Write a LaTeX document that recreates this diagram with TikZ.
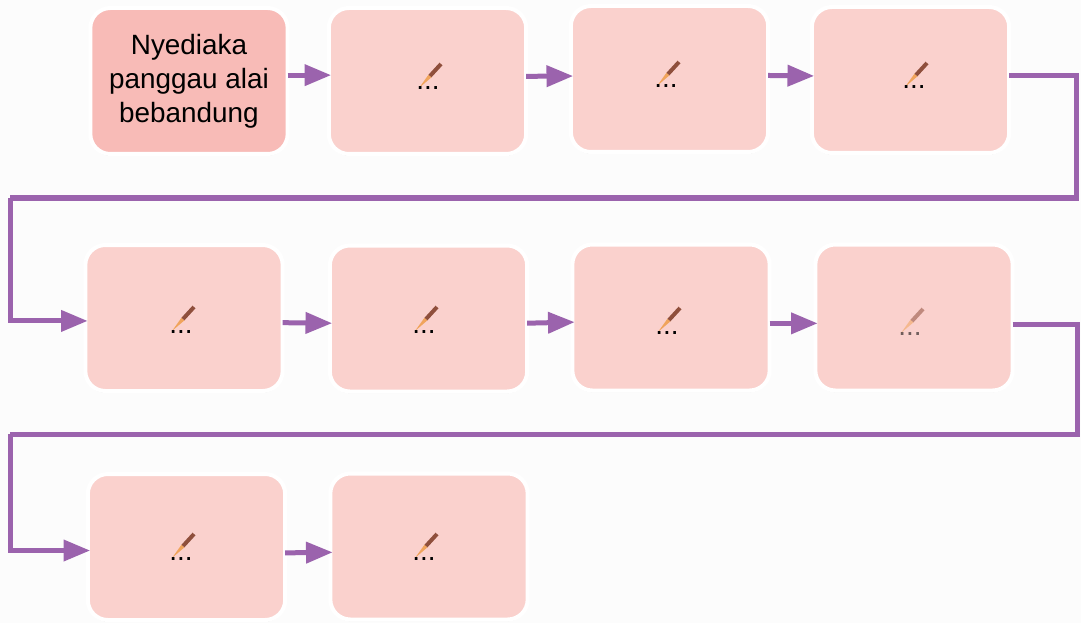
\documentclass[tikz,border=0pt]{standalone}
\usepackage{xcolor}
\usepackage{fontspec}
\usepackage{tikz}
\usetikzlibrary{arrows.meta,shadows}
\setmainfont{Liberation Sans}

\definecolor{startpink}{HTML}{F8BBB7}
\definecolor{steppink}{HTML}{FAD1CD}
\definecolor{linkpurple}{HTML}{9B63AD}
\definecolor{penbrown}{HTML}{8F4F3C}
\definecolor{penorange}{HTML}{F0A45C}

\tikzset{
	penmark/.pic={
		\fill[penorange] (-9,-2) -- (0.5,-15.3) -- (3.5,-12.7) -- cycle;
		\fill[penbrown] (0.5,-15.3) -- (11.5,-27.3) -- (14.5,-24.7) -- (3.5,-12.7) -- cycle;
		\node[dots] (-dots) at (0,0) {...};
	}
}

\begin{document}
\begin{tikzpicture}[
		x=0.3mm, y=-0.3mm,
		font=\fontsize{23.8}{29}\selectfont,
		stepbox/.style={rectangle, draw=white, line width=1.2mm, rounded corners=6mm, outer sep=0pt, minimum width=59.2mm, minimum height=43.8mm, align=center, fill=steppink, drop shadow={shadow xshift=0pt, shadow yshift=-0.5mm, opacity=0.18, fill=black}},
		dots/.style={inner sep=0pt, anchor=base},
		arrow/.style={-{Triangle[length=8mm, width=6.2mm]}, line width=1.5mm, draw=linkpurple, shorten >=-2pt},
		link/.style={line width=1.5mm, draw=linkpurple, line join=miter}
	]
		\useasboundingbox[fill=white!99!black] (0,0) rectangle (1081,623);

		% First row
		\node[stepbox, fill=startpink] (start) at (189,81) {Nyediaka\\panggau alai\\bebandung};
		\node[stepbox] (box2) at (427.5,81) {};
		\node[stepbox] (box3) at (669.5,79) {};
		\node[stepbox] (box4) at (910.5,80) {};

		% Second row
		\node[stepbox] (box5) at (184,318) {};
		\node[stepbox] (box6) at (428.5,318.5) {};
		\node[stepbox] (box7) at (671,317.5) {};
		\node[stepbox] (box8) at (914,317.5) {};

		% Third row
		\node[stepbox] (box9) at (186.5,547) {};
		\node[stepbox] (box10) at (429,546.5) {};

		% Pens
		\pic (pen2) at (428,90) {penmark};
		\pic (pen3) at (666,88) {penmark};
		\pic (pen4) at (914,89) {penmark};
		\pic (pen5) at (181,333) {penmark};
		\pic (pen6) at (424,333) {penmark};
		\pic (pen7) at (667,334) {penmark};
		\pic[opacity=0.55] (pen8) at (910,335) {penmark};
		\pic (pen9) at (181,560) {penmark};
		\pic (pen10) at (424,560) {penmark};

		% Turning points
		\coordinate (turn1) at (1076,198);
		\coordinate (turn2) at (10,198);
		\coordinate (turn3) at (1077,434);
		\coordinate (turn4) at (10,434);

		% Arrows
		\draw[arrow] ([yshift=5pt]start.east) -- ([yshift=5pt]box2.west);
		\draw[arrow] ([yshift=4pt]box2.east) -- ([yshift=2.5pt]box3.west);
		\draw[arrow] ([yshift=3pt]box3.east) -- ([yshift=3.5pt]box4.west);
		\draw[link] ([yshift=4pt]box4.east) -| (turn1) -- (turn2);
		\draw[arrow] (turn2) |- ([yshift=-2.5pt]box5.west);
		\draw[arrow] ([yshift=-4pt]box5.east) -- ([yshift=-4pt]box6.west);
		\draw[arrow] ([yshift=-4pt]box6.east) -- ([yshift=-4pt]box7.west);
		\draw[arrow] ([yshift=-5pt]box7.east) -- ([yshift=-5pt]box8.west);
		\draw[link] ([yshift=-6pt]box8.east) -| (turn3) -- (turn4);
		\draw[arrow] (turn4) |- ([yshift=-3pt]box9.west);
		\draw[arrow] ([yshift=-5pt]box9.east) -- ([yshift=-5pt]box10.west);
	\end{tikzpicture}
\end{document}
